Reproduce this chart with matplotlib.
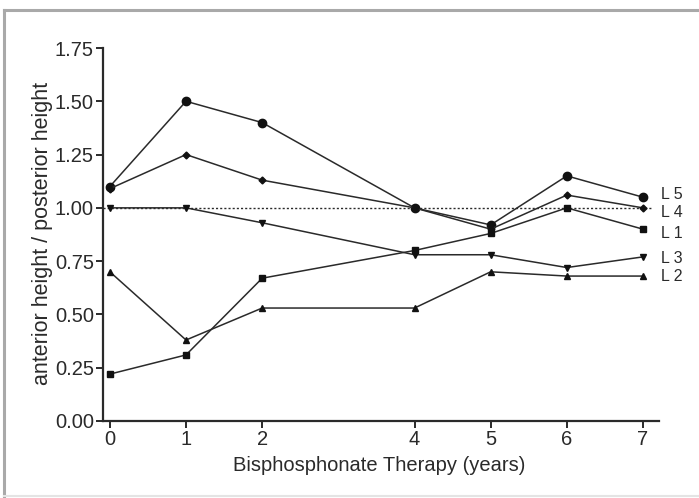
import matplotlib
matplotlib.use("Agg")
import matplotlib.pyplot as plt
from matplotlib.lines import Line2D

plt.rcParams['font.family'] = ['Liberation Sans', 'DejaVu Sans']

years = [0, 1, 2, 4, 5, 6, 7]
x_ticks = [0, 1, 2, 4, 5, 6, 7]
y_ticks = [0.00, 0.25, 0.50, 0.75, 1.00, 1.25, 1.50, 1.75]

# ratio anterior / posterior height per vertebra
l5 = [1.10, 1.50, 1.40, 1.00, 0.92, 1.15, 1.05]
l4 = [1.09, 1.25, 1.13, 1.00, 0.90, 1.06, 1.00]
l1 = [0.22, 0.31, 0.67, 0.80, 0.88, 1.00, 0.90]
l3 = [1.00, 1.00, 0.93, 0.78, 0.78, 0.72, 0.77]
l2 = [0.70, 0.38, 0.53, 0.53, 0.70, 0.68, 0.68]

series = [
    ("L 5", l5, "o", 6.0),
    ("L 4", l4, "D", 3.5),
    ("L 1", l1, "s", 4.2),
    ("L 3", l3, "v", 5.0),
    ("L 2", l2, "^", 4.2),
]
label_y = {"L 5": 1.065, "L 4": 0.98, "L 1": 0.878, "L 3": 0.762, "L 2": 0.676}

ink = "#2a2a2a"

fig = plt.figure(figsize=(6.99, 4.98), dpi=100)
ax = fig.add_axes([103 / 699, 1 - 421 / 498, (659 - 103) / 699, (421 - 48) / 498])

ax.plot([-0.09, 7.1], [1.0, 1.0], color=ink, lw=1.0, ls=(0, (1.5, 1.5)), zorder=1)

for name, vals, mk, ms in series:
    ax.plot(years, vals, color=ink, lw=1.1, marker=mk, ms=ms,
            markerfacecolor="#111111", markeredgecolor="#111111", zorder=3)
    ax.text(7.23, label_y[name], name, fontsize=11.5, color=ink,
            va="center", ha="left", clip_on=False)

ax.set_xlim(-0.09, 7.21)
ax.set_ylim(0, 1.75)
ax.set_xticks(x_ticks)
ax.set_yticks(y_ticks)
ax.set_yticklabels(["%.2f" % v for v in y_ticks])

for s in ["top", "right"]:
    ax.spines[s].set_visible(False)
for s in ["left", "bottom"]:
    ax.spines[s].set_linewidth(1.6)
    ax.spines[s].set_color(ink)

ax.tick_params(axis="both", direction="out", length=5, width=1.4,
               color=ink, labelsize=14.5, labelcolor=ink, pad=1.5)

ax.set_xlabel("Bisphosphonate Therapy (years)", fontsize=14.5, color=ink, va="center")
ax.xaxis.set_label_coords(0.497, -0.118)
ax.set_ylabel("anterior height / posterior height", fontsize=15.5, color=ink, va="center")
ax.yaxis.set_label_coords(-0.108, 0.504)

# grey frame around the picture
frame = "#a9a9a9"
fig.add_artist(Line2D([3.5 / 699, 1.0], [1 - 10 / 498, 1 - 10 / 498],
                      transform=fig.transFigure, color=frame, lw=2.2))
fig.add_artist(Line2D([3.5 / 699, 3.5 / 699], [1 - 10 / 498, 0.0],
                      transform=fig.transFigure, color=frame, lw=2.2))
fig.add_artist(Line2D([3.5 / 699, 1.0], [1 - 496 / 498, 1 - 496 / 498],
                      transform=fig.transFigure, color="#e4e4e4", lw=1.5))

fig.savefig("out.png", dpi=100)
